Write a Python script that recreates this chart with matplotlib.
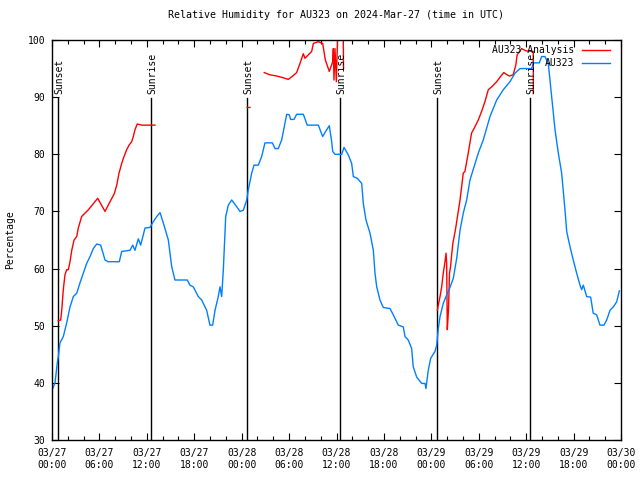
import numpy as np
import matplotlib.pyplot as plt
from matplotlib.ticker import MultipleLocator

# Relative humidity AU323, hours since 2024-03-27 00:00 UTC
obs_hours = [0.09, 0.38, 0.67, 0.80, 1.01, 1.43, 1.86, 2.28, 2.70, 3.13, 3.54, 3.96, 4.39, 4.81,
             5.23, 5.66, 6.16, 6.71, 7.12, 8.52, 8.82, 9.87, 10.21, 10.50, 10.92, 11.22, 11.77,
             12.40, 12.82, 13.25, 13.67, 14.08, 14.72, 15.15, 15.56, 17.12, 17.46, 17.88, 18.51,
             18.94, 19.57, 19.99, 20.33, 20.63, 21.04, 21.26, 21.47, 21.68, 21.98, 22.31, 22.74,
             23.28, 23.79, 24.21, 24.64, 24.84, 25.27, 25.56, 26.10, 26.53, 26.95, 27.88, 28.22,
             28.63, 29.06, 29.70, 30.03, 30.20, 30.62, 30.96, 31.80, 32.30, 33.70, 34.25, 34.67,
             35.09, 35.39, 35.52, 35.81, 36.66, 36.95, 37.49, 37.92, 38.13, 38.63, 39.19, 39.39,
             39.73, 40.24, 40.66, 40.87, 41.09, 41.50, 41.92, 42.77, 43.19, 43.82, 44.45, 44.67,
             45.08, 45.51, 45.71, 46.15, 46.78, 47.20, 47.32, 47.61, 47.92, 48.46, 48.68, 48.88,
             49.10, 49.51, 49.94, 50.36, 50.78, 51.21, 51.63, 52.04, 52.47, 52.89, 53.94, 54.57,
             55.42, 56.27, 57.11, 57.95, 58.59, 59.22, 60.70, 60.90, 61.66, 61.96, 62.38, 62.80,
             63.23, 63.65, 64.07, 64.49, 64.91, 65.13, 65.55, 65.96, 66.39, 66.81, 67.02, 67.23,
             67.66, 68.16, 68.48, 68.92, 69.34, 69.85, 70.19, 70.61, 71.03, 71.46, 71.79]
obs_rh = [39.0, 40.0, 43.5, 44.6, 47.0, 48.1, 50.5, 53.3, 55.1, 55.7, 57.5, 59.2, 60.9, 62.1,
          63.5, 64.3, 64.1, 61.5, 61.2, 61.2, 63.0, 63.2, 64.1, 63.2, 65.2, 64.1, 67.1,
          67.2, 68.2, 69.1, 69.8, 68.0, 65.0, 60.3, 58.0, 58.0, 57.1, 56.8, 55.1,
          54.5, 52.7, 50.1, 50.1, 52.7, 55.1, 56.8, 55.1, 59.8, 69.1, 71.1, 72.0,
          71.0, 70.0, 70.2, 72.0, 73.8, 76.7, 78.1, 78.1, 79.6, 82.0, 82.0, 81.0,
          81.0, 82.5, 87.0, 86.9, 86.1, 86.1, 87.0, 87.0, 85.1, 85.1, 83.1, 84.1,
          85.0, 82.2, 80.5, 80.0, 80.0, 81.2, 79.9, 78.4, 76.1, 75.8, 74.9, 71.4,
          68.5, 66.2, 63.2, 59.2, 56.8, 54.5, 53.2, 53.0, 51.9, 50.1, 49.8, 48.1,
          47.5, 46.0, 42.8, 41.0, 39.9, 39.9, 39.0, 42.2, 44.3, 45.5, 46.6, 49.5,
          51.6, 53.9, 55.4, 56.7, 58.3, 61.8, 66.7, 69.7, 72.0, 75.5, 80.2, 82.5,
          86.6, 89.5, 91.3, 92.7, 94.2, 95.0, 95.0, 96.0, 96.0, 97.1, 97.1, 95.9,
          90.0, 84.3, 80.2, 76.7, 70.3, 66.5, 63.8, 61.5, 59.2, 57.1, 56.3, 57.1,
          55.1, 55.0, 52.2, 51.9, 50.1, 50.1, 51.0, 52.7, 53.3, 54.2, 56.1]

# analysis series, gaps as nan
ana_hours = [0.79, 1.10, 1.23, 1.43, 1.64, 1.86, 2.06, 2.28, 2.50, 2.79, 3.13, 3.33, 3.75, 4.17,
             4.61, 5.78, 6.71, 7.34, 7.88, 8.19, 8.48, 8.82, 9.03, 9.45, 9.75, 10.08, 10.29,
             10.50, 10.79, 11.35, 13.03, np.nan,
             24.71, 25.05, np.nan,
             26.86, 27.58, 28.43, 29.26, 29.90, 30.46, 30.96, 31.38, 31.80, 32.01, 32.86,
             33.07, 33.70, 34.25, 34.59, 35.09, 35.52, 35.60, 35.68, 35.81, 35.98, 36.15,
             36.34, 36.85, 36.89, np.nan,
             48.76, 48.88, 49.10, 49.31, 49.51, 49.73, 49.86, 49.94, 50.02, 50.17, 50.30,
             50.43, 50.55, 50.72, 51.05, 51.63, 52.04, 52.25, 52.67, 53.09, 53.51, 53.94,
             54.36, 54.78, 55.21, 55.63, 56.27, 56.75, 57.17, 57.59, 57.89, 58.35, 58.69,
             58.86, 59.43, 59.96, 60.70, 60.90, 60.91]
ana_rh = [50.9, 51.0, 52.7, 56.3, 58.9, 59.8, 59.8, 61.2, 63.2, 65.0, 65.6, 67.1, 69.1, 69.7,
          70.3, 72.3, 70.0, 71.7, 73.1, 74.6, 76.7, 78.4, 79.3, 80.8, 81.6, 82.2, 83.1,
          84.3, 85.3, 85.1, 85.1, np.nan,
          88.2, 88.2, np.nan,
          94.3, 93.9, 93.7, 93.4, 93.1, 93.7, 94.3, 95.9, 97.6, 96.8, 98.0,
          99.4, 99.7, 99.4, 96.5, 94.5, 96.2, 98.5, 93.0, 98.5, 92.7, 101.0,
          101.0, 101.0, 95.0, np.nan,
          52.7, 53.6, 55.1, 56.8, 59.2, 61.2, 62.7, 60.9, 49.3, 52.7, 59.2,
          60.3, 62.1, 64.4, 66.8, 72.0, 76.7, 77.0, 80.2, 83.7, 84.8, 86.0,
          87.5, 89.2, 91.3, 91.8, 92.7, 93.6, 94.3, 93.9, 93.7, 93.9, 95.6,
          97.4, 98.5, 98.1, 98.0, 98.0, 90.7]

sun_hours = [0.76, 12.53, 24.67, 36.44, 48.72, 60.49]
sun_labels = ['Sunset', 'Sunrise', 'Sunset', 'Sunrise', 'Sunset', 'Sunrise']

tick_hours = np.arange(0, 73, 6)
tick_labels = ['03/27\n00:00', '03/27\n06:00', '03/27\n12:00', '03/27\n18:00',
               '03/28\n00:00', '03/28\n06:00', '03/28\n12:00', '03/28\n18:00',
               '03/29\n00:00', '03/29\n06:00', '03/29\n12:00', '03/29\n18:00',
               '03/30\n00:00']

plt.rcParams['font.family'] = 'DejaVu Sans Mono'
plt.rcParams['font.size'] = 7

fig = plt.figure(figsize=(6.4, 4.8), dpi=100)
ax = fig.add_axes([52/640, 40/480, 569/640, 400/480])

red = '#ff0000'
blue = '#0080ff'

for h, lab in zip(sun_hours, sun_labels):
    ax.plot([h, h], [30, 89.85], color='black', lw=1.0)
    ax.text(h + 0.15, 90.6, lab, rotation=90, ha='center', va='bottom', fontsize=7)

ax.plot(ana_hours, ana_rh, color=red, lw=1.0)
ax.plot(obs_hours, obs_rh, color=blue, lw=1.0)

# legend, drawn by hand like gnuplot
ax.text(0.917, 0.975, 'AU323 Analysis', transform=ax.transAxes, ha='right', va='center')
ax.plot([0.931, 0.981], [0.975, 0.975], color=red, lw=1.0, transform=ax.transAxes)
ax.text(0.917, 0.9425, 'AU323', transform=ax.transAxes, ha='right', va='center')
ax.plot([0.931, 0.981], [0.9425, 0.9425], color=blue, lw=1.0, transform=ax.transAxes)

ax.set_xlim(0, 72)
ax.set_ylim(30, 100)
ax.set_xticks(tick_hours)
ax.set_xticklabels(tick_labels)
ax.xaxis.set_minor_locator(MultipleLocator(2))
ax.set_yticks(np.arange(30, 101, 10))
ax.tick_params(which='both', direction='in', top=True, right=True)
ax.tick_params(which='major', length=5, width=0.8)
ax.tick_params(which='minor', length=3, width=0.8)
ax.tick_params(axis='x', pad=6)
ax.tick_params(axis='y', pad=5)
for s in ax.spines.values():
    s.set_linewidth(1.0)

ax.set_ylabel('Percentage', labelpad=9)
ax.set_title('Relative Humidity for AU323 on 2024-Mar-27 (time in UTC)', fontsize=7.2, pad=16)

fig.savefig('out.png', dpi=100)
